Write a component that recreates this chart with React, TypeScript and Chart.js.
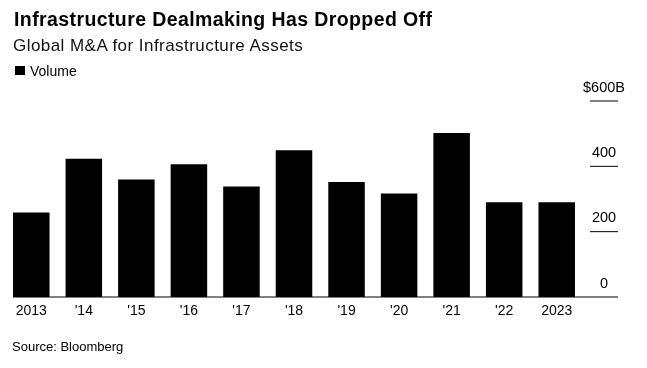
import React, { useEffect, useRef } from "react";
import { Chart, registerables } from "chart.js";

Chart.register(...registerables);

const categories = ["2013", "'14", "'15", "'16", "'17", "'18", "'19", "'20", "'21", "'22", "2023"];
const volume = [259, 423, 360, 406, 338, 449, 352, 317, 502, 290, 290];
const yTickValues = [0, 200, 400, 600];
const yTickLabels = ["0", "200", "400", "$600B"];

const FONT = '"Liberation Sans", Arial, Helvetica, sans-serif';

const rightAxisPlugin = {
  id: "rightAxis",
  afterDatasetsDraw(chart: any) {
    const ctx = chart.ctx as CanvasRenderingContext2D;
    const yScale = chart.scales.y;
    const area = chart.chartArea;
    const meta = chart.getDatasetMeta(0);
    const first = meta.data[0] as any;
    const baseLeft = first.x - first.width / 2;
    const tickStart = area.right + 7;
    const tickEnd = area.right + 35;
    ctx.save();
    ctx.strokeStyle = "#000";
    ctx.lineWidth = 1;
    ctx.fillStyle = "#000";
    ctx.font = `14.5px ${FONT}`;
    ctx.textAlign = "center";
    ctx.textBaseline = "alphabetic";
    yTickValues.forEach((v, i) => {
      const py = yScale.getPixelForValue(v);
      ctx.beginPath();
      ctx.moveTo(v === 0 ? baseLeft : tickStart, py);
      ctx.lineTo(tickEnd, py);
      ctx.stroke();
      ctx.fillText(yTickLabels[i], (tickStart + tickEnd) / 2, py - 9.4);
    });
    ctx.restore();
  },
};

export default function App() {
  const canvasRef = useRef<HTMLCanvasElement | null>(null);

  useEffect(() => {
    if (!canvasRef.current) return;
    const chart = new Chart(canvasRef.current, {
      type: "bar",
      data: {
        labels: categories,
        datasets: [
          {
            label: "Volume",
            data: volume,
            backgroundColor: "#000",
            borderWidth: 0,
            barPercentage: 0.695,
            categoryPercentage: 1.0,
          },
        ],
      },
      options: {
        responsive: false,
        animation: false,
        layout: { padding: { left: 5, right: 64, top: 101, bottom: 42.2 } },
        plugins: { legend: { display: false }, tooltip: { enabled: false } },
        scales: {
          x: {
            grid: { display: false, drawTicks: false },
            border: { display: false },
            ticks: {
              color: "#000",
              padding: 6,
              font: { family: FONT, size: 14 },
              maxRotation: 0,
              autoSkip: false,
            },
          },
          y: {
            display: false,
            min: 0,
            max: 600,
          },
        },
      },
      plugins: [rightAxisPlugin],
    });
    return () => chart.destroy();
  }, []);

  return (
    <div
      style={{
        position: "absolute",
        left: 0,
        top: 0,
        width: 647,
        height: 368,
        background: "#fff",
        fontFamily: FONT,
        color: "#000",
        overflow: "hidden",
      }}
    >
      <canvas ref={canvasRef} width={647} height={368} style={{ position: "absolute", left: 0, top: 0 }} />
      <div
        style={{
          position: "absolute",
          left: 14,
          top: 9.8,
          fontSize: 19.5,
          lineHeight: 1,
          fontWeight: 700,
          letterSpacing: 0.4,
          whiteSpace: "nowrap",
        }}
      >
        Infrastructure Dealmaking Has Dropped Off
      </div>
      <div
        style={{
          position: "absolute",
          left: 13,
          top: 36.8,
          fontSize: 17,
          lineHeight: 1,
          letterSpacing: 0.45,
          whiteSpace: "nowrap",
          color: "#111",
        }}
      >
        Global M&amp;A for Infrastructure Assets
      </div>
      <div
        style={{
          position: "absolute",
          left: 15,
          top: 65.5,
          width: 9.5,
          height: 9.5,
          background: "#000",
        }}
      />
      <div
        style={{
          position: "absolute",
          left: 30,
          top: 63.5,
          fontSize: 14,
          lineHeight: 1,
          whiteSpace: "nowrap",
        }}
      >
        Volume
      </div>
      <div
        style={{
          position: "absolute",
          left: 12,
          top: 340,
          fontSize: 13,
          lineHeight: 1,
          whiteSpace: "nowrap",
        }}
      >
        Source: Bloomberg
      </div>
    </div>
  );
}
